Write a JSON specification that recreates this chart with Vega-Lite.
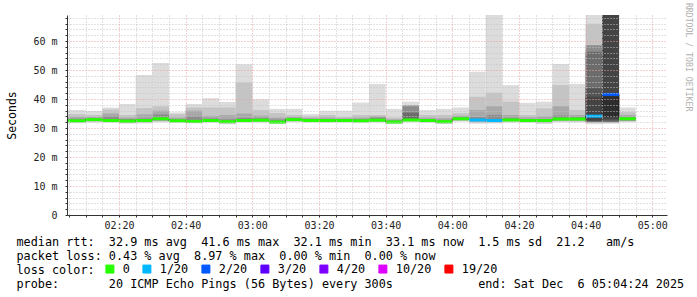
{
  "$schema": "https://vega.github.io/schema/vega-lite/v6.json",
  "width": 600,
  "height": 200,
  "autosize": {"type": "none"},
  "padding": {"left": 67, "top": 15, "right": 30, "bottom": 82},
  "background": "#ffffff",
  "title": {"text": "RRDTOOL / TOBI OETIKER", "orient": "right", "anchor": "start", "font": "DejaVu Sans Mono", "fontSize": 8.2, "fontWeight": "normal", "color": "#b0b0b0", "offset": 0, "dx": -10},
  "config": {
    "view": {"stroke": null},
    "axis": {"labelFont": "DejaVu Sans Mono", "labelFontSize": 10, "labelColor": "#222222", "domainColor": "#333333", "tickColor": "#333333", "titleFont": "DejaVu Sans Mono", "titleFontWeight": "normal", "titleColor": "#000000"}
  },
  "resolve": {"scale": {"y": "shared"}, "axis": {"y": "independent"}},
  "data": {"values": [
    {"t0":"2025-12-06T02:00:00","t1":"2025-12-06T02:05:00","mn":31.7,"mx":36.2,"a1":32.0,"a2":34.8,"b1":32.2,"b2":33.8,"c1":32.3,"c2":33.2,"med":32.5,"loss":"0"},
    {"t0":"2025-12-06T02:05:00","t1":"2025-12-06T02:10:00","mn":31.7,"mx":36.2,"a1":32.0,"a2":34.8,"b1":32.2,"b2":33.8,"c1":32.3,"c2":33.2,"med":32.5,"loss":"0"},
    {"t0":"2025-12-06T02:10:00","t1":"2025-12-06T02:15:00","mn":31.9,"mx":35.9,"a1":32.2,"a2":34.5,"b1":32.5,"b2":33.8,"c1":32.6,"c2":33.4,"med":32.9,"loss":"0"},
    {"t0":"2025-12-06T02:15:00","t1":"2025-12-06T02:20:00","mn":31.8,"mx":37.1,"a1":32.1,"a2":36.4,"b1":32.3,"b2":35.0,"c1":32.4,"c2":34.0,"med":32.6,"loss":"0"},
    {"t0":"2025-12-06T02:20:00","t1":"2025-12-06T02:25:00","mn":31.5,"mx":38.3,"a1":31.9,"a2":34.5,"b1":32.0,"b2":33.6,"c1":32.0,"c2":33.1,"med":32.4,"loss":"0"},
    {"t0":"2025-12-06T02:25:00","t1":"2025-12-06T02:30:00","mn":31.6,"mx":48.3,"a1":31.9,"a2":36.9,"b1":32.1,"b2":34.7,"c1":32.2,"c2":33.3,"med":32.6,"loss":"0"},
    {"t0":"2025-12-06T02:30:00","t1":"2025-12-06T02:35:00","mn":32.0,"mx":52.4,"a1":32.3,"a2":37.5,"b1":32.5,"b2":36.0,"c1":32.7,"c2":34.7,"med":33.2,"loss":"0"},
    {"t0":"2025-12-06T02:35:00","t1":"2025-12-06T02:40:00","mn":31.8,"mx":35.4,"a1":32.1,"a2":34.8,"b1":32.2,"b2":33.6,"c1":32.3,"c2":33.1,"med":32.5,"loss":"0"},
    {"t0":"2025-12-06T02:40:00","t1":"2025-12-06T02:45:00","mn":31.6,"mx":38.3,"a1":31.9,"a2":37.1,"b1":32.0,"b2":36.0,"c1":32.1,"c2":34.0,"med":32.3,"loss":"0"},
    {"t0":"2025-12-06T02:45:00","t1":"2025-12-06T02:50:00","mn":31.8,"mx":40.3,"a1":32.1,"a2":37.1,"b1":32.3,"b2":34.2,"c1":32.4,"c2":33.3,"med":32.6,"loss":"0"},
    {"t0":"2025-12-06T02:50:00","t1":"2025-12-06T02:55:00","mn":31.3,"mx":39.0,"a1":31.6,"a2":37.1,"b1":31.8,"b2":34.5,"c1":31.9,"c2":33.0,"med":32.2,"loss":"0"},
    {"t0":"2025-12-06T02:55:00","t1":"2025-12-06T03:00:00","mn":31.9,"mx":52.0,"a1":32.1,"a2":45.7,"b1":32.3,"b2":35.0,"c1":32.4,"c2":33.5,"med":32.6,"loss":"0"},
    {"t0":"2025-12-06T03:00:00","t1":"2025-12-06T03:05:00","mn":31.9,"mx":39.9,"a1":32.2,"a2":36.2,"b1":32.4,"b2":34.3,"c1":32.5,"c2":33.4,"med":32.7,"loss":"0"},
    {"t0":"2025-12-06T03:05:00","t1":"2025-12-06T03:10:00","mn":31.4,"mx":36.6,"a1":31.6,"a2":35.2,"b1":31.8,"b2":33.6,"c1":31.9,"c2":32.9,"med":32.1,"loss":"0"},
    {"t0":"2025-12-06T03:10:00","t1":"2025-12-06T03:15:00","mn":32.0,"mx":36.6,"a1":32.3,"a2":34.5,"b1":32.5,"b2":33.8,"c1":32.6,"c2":33.4,"med":32.9,"loss":"0"},
    {"t0":"2025-12-06T03:15:00","t1":"2025-12-06T03:20:00","mn":31.9,"mx":34.8,"a1":32.1,"a2":34.0,"b1":32.3,"b2":33.5,"c1":32.4,"c2":33.1,"med":32.6,"loss":"0"},
    {"t0":"2025-12-06T03:20:00","t1":"2025-12-06T03:25:00","mn":31.8,"mx":36.0,"a1":32.1,"a2":34.5,"b1":32.3,"b2":33.6,"c1":32.4,"c2":33.1,"med":32.6,"loss":"0"},
    {"t0":"2025-12-06T03:25:00","t1":"2025-12-06T03:30:00","mn":31.9,"mx":36.0,"a1":32.2,"a2":33.8,"b1":32.3,"b2":33.4,"c1":32.4,"c2":33.0,"med":32.6,"loss":"0"},
    {"t0":"2025-12-06T03:30:00","t1":"2025-12-06T03:35:00","mn":31.8,"mx":38.8,"a1":32.1,"a2":34.5,"b1":32.3,"b2":33.6,"c1":32.4,"c2":33.1,"med":32.5,"loss":"0"},
    {"t0":"2025-12-06T03:35:00","t1":"2025-12-06T03:40:00","mn":31.9,"mx":45.2,"a1":32.2,"a2":34.5,"b1":32.4,"b2":34.0,"c1":32.5,"c2":33.6,"med":32.7,"loss":"0"},
    {"t0":"2025-12-06T03:40:00","t1":"2025-12-06T03:45:00","mn":31.4,"mx":36.6,"a1":31.6,"a2":33.6,"b1":31.8,"b2":33.0,"c1":31.9,"c2":32.6,"med":32.1,"loss":"0"},
    {"t0":"2025-12-06T03:45:00","t1":"2025-12-06T03:50:00","mn":32.0,"mx":39.1,"a1":32.3,"a2":37.9,"b1":32.5,"b2":37.9,"c1":32.6,"c2":37.5,"d1":32.7,"d2":35.3,"med":32.8,"loss":"0"},
    {"t0":"2025-12-06T03:50:00","t1":"2025-12-06T03:55:00","mn":31.8,"mx":36.2,"a1":32.1,"a2":34.5,"b1":32.3,"b2":33.6,"c1":32.4,"c2":33.1,"med":32.6,"loss":"0"},
    {"t0":"2025-12-06T03:55:00","t1":"2025-12-06T04:00:00","mn":31.4,"mx":36.6,"a1":31.6,"a2":34.5,"b1":31.8,"b2":33.4,"c1":31.9,"c2":32.8,"med":32.2,"loss":"0"},
    {"t0":"2025-12-06T04:00:00","t1":"2025-12-06T04:05:00","mn":32.2,"mx":37.1,"a1":32.5,"a2":35.1,"b1":32.7,"b2":34.2,"c1":32.8,"c2":33.8,"med":33.2,"loss":"0"},
    {"t0":"2025-12-06T04:05:00","t1":"2025-12-06T04:10:00","mn":31.5,"mx":49.4,"a1":31.9,"a2":40.8,"b1":32.2,"b2":36.2,"c1":32.4,"c2":33.8,"med":32.8,"loss":"1/20"},
    {"t0":"2025-12-06T04:10:00","t1":"2025-12-06T04:15:00","mn":31.6,"mx":75,"a1":31.9,"a2":42.2,"b1":32.1,"b2":37.5,"c1":32.3,"c2":34.5,"med":32.6,"loss":"1/20"},
    {"t0":"2025-12-06T04:15:00","t1":"2025-12-06T04:20:00","mn":31.9,"mx":44.8,"a1":32.2,"a2":39.1,"b1":32.4,"b2":34.5,"c1":32.5,"c2":33.5,"med":32.8,"loss":"0"},
    {"t0":"2025-12-06T04:20:00","t1":"2025-12-06T04:25:00","mn":31.8,"mx":38.7,"a1":32.1,"a2":34.5,"b1":32.3,"b2":33.7,"c1":32.4,"c2":33.1,"med":32.6,"loss":"0"},
    {"t0":"2025-12-06T04:25:00","t1":"2025-12-06T04:30:00","mn":31.4,"mx":39.1,"a1":31.8,"a2":36.8,"b1":32.1,"b2":34.0,"c1":32.3,"c2":33.1,"med":32.6,"loss":"0"},
    {"t0":"2025-12-06T04:30:00","t1":"2025-12-06T04:35:00","mn":32.0,"mx":52.1,"a1":32.3,"a2":44.8,"b1":32.6,"b2":37.5,"c1":32.7,"c2":34.3,"med":33.1,"loss":"0"},
    {"t0":"2025-12-06T04:35:00","t1":"2025-12-06T04:40:00","mn":32.0,"mx":45.2,"a1":32.3,"a2":36.2,"b1":32.6,"b2":34.5,"c1":32.7,"c2":33.8,"med":33.1,"loss":"0"},
    {"t0":"2025-12-06T04:40:00","t1":"2025-12-06T04:45:00","mn":31.3,"mx":75,"a1":31.8,"a2":66.0,"c1":32.0,"c2":58.6,"d1":32.2,"d2":56.3,"e1":32.4,"e2":43.7,"f1":32.6,"f2":40.8,"med":34.1,"loss":"1/20"},
    {"t0":"2025-12-06T04:45:00","t1":"2025-12-06T04:50:00","mn":31.5,"mx":75,"a1":31.8,"a2":75,"c1":32.0,"c2":75,"d1":32.2,"d2":75,"e1":32.6,"e2":75,"f1":33.0,"f2":75,"g1":33.8,"g2":41.0,"med":41.6,"loss":"2/20"},
    {"t0":"2025-12-06T04:50:00","t1":"2025-12-06T04:55:00","mn":32.0,"mx":37.1,"a1":32.3,"a2":35.5,"b1":32.5,"b2":34.5,"c1":32.6,"c2":33.8,"med":33.2,"loss":"0"}
  ]},
  "encoding": {
    "x": {
      "field": "t0", "type": "temporal",
      "scale": {"domain": [{"year": 2025, "month": 12, "date": 6, "hours": 2, "minutes": 4, "seconds": 24}, {"year": 2025, "month": 12, "date": 6, "hours": 5, "minutes": 4, "seconds": 24}]},
      "axis": {
        "values": [
          {"year": 2025, "month": 12, "date": 6, "hours": 2, "minutes": 5}, {"year": 2025, "month": 12, "date": 6, "hours": 2, "minutes": 10}, {"year": 2025, "month": 12, "date": 6, "hours": 2, "minutes": 15}, {"year": 2025, "month": 12, "date": 6, "hours": 2, "minutes": 20},
          {"year": 2025, "month": 12, "date": 6, "hours": 2, "minutes": 25}, {"year": 2025, "month": 12, "date": 6, "hours": 2, "minutes": 30}, {"year": 2025, "month": 12, "date": 6, "hours": 2, "minutes": 35}, {"year": 2025, "month": 12, "date": 6, "hours": 2, "minutes": 40},
          {"year": 2025, "month": 12, "date": 6, "hours": 2, "minutes": 45}, {"year": 2025, "month": 12, "date": 6, "hours": 2, "minutes": 50}, {"year": 2025, "month": 12, "date": 6, "hours": 2, "minutes": 55}, {"year": 2025, "month": 12, "date": 6, "hours": 3, "minutes": 0},
          {"year": 2025, "month": 12, "date": 6, "hours": 3, "minutes": 5}, {"year": 2025, "month": 12, "date": 6, "hours": 3, "minutes": 10}, {"year": 2025, "month": 12, "date": 6, "hours": 3, "minutes": 15}, {"year": 2025, "month": 12, "date": 6, "hours": 3, "minutes": 20},
          {"year": 2025, "month": 12, "date": 6, "hours": 3, "minutes": 25}, {"year": 2025, "month": 12, "date": 6, "hours": 3, "minutes": 30}, {"year": 2025, "month": 12, "date": 6, "hours": 3, "minutes": 35}, {"year": 2025, "month": 12, "date": 6, "hours": 3, "minutes": 40},
          {"year": 2025, "month": 12, "date": 6, "hours": 3, "minutes": 45}, {"year": 2025, "month": 12, "date": 6, "hours": 3, "minutes": 50}, {"year": 2025, "month": 12, "date": 6, "hours": 3, "minutes": 55}, {"year": 2025, "month": 12, "date": 6, "hours": 4, "minutes": 0},
          {"year": 2025, "month": 12, "date": 6, "hours": 4, "minutes": 5}, {"year": 2025, "month": 12, "date": 6, "hours": 4, "minutes": 10}, {"year": 2025, "month": 12, "date": 6, "hours": 4, "minutes": 15}, {"year": 2025, "month": 12, "date": 6, "hours": 4, "minutes": 20},
          {"year": 2025, "month": 12, "date": 6, "hours": 4, "minutes": 25}, {"year": 2025, "month": 12, "date": 6, "hours": 4, "minutes": 30}, {"year": 2025, "month": 12, "date": 6, "hours": 4, "minutes": 35}, {"year": 2025, "month": 12, "date": 6, "hours": 4, "minutes": 40},
          {"year": 2025, "month": 12, "date": 6, "hours": 4, "minutes": 45}, {"year": 2025, "month": 12, "date": 6, "hours": 4, "minutes": 50}, {"year": 2025, "month": 12, "date": 6, "hours": 4, "minutes": 55}, {"year": 2025, "month": 12, "date": 6, "hours": 5, "minutes": 0}
        ],
        "labelExpr": "(timeFormat(datum.value, '%M') === '00' || timeFormat(datum.value, '%M') === '20' || timeFormat(datum.value, '%M') === '40') ? timeFormat(datum.value, '%H:%M') : ''",
        "labelFlush": false,
        "labelOverlap": false,
        "labelPadding": 3,
        "tickSize": 2,
        "grid": true,
        "gridColor": {"condition": {"test": "timeFormat(datum.value, '%M') === '00' || timeFormat(datum.value, '%M') === '20' || timeFormat(datum.value, '%M') === '40'", "value": "#eca0a0"}, "value": "#c4c4c4"},
        "gridDash": [1, 2],
        "zindex": 1,
        "title": ["median\u00a0rtt:\u00a0\u00a032.9\u00a0ms\u00a0avg\u00a0\u00a041.6\u00a0ms\u00a0max\u00a0\u00a032.1\u00a0ms\u00a0min\u00a0\u00a033.1\u00a0ms\u00a0now\u00a0\u00a01.5\u00a0ms\u00a0sd\u00a0\u00a021.2\u00a0\u00a0\u00a0am/s",
                  "packet\u00a0loss:\u00a00.43\u00a0%\u00a0avg\u00a0\u00a08.97\u00a0%\u00a0max\u00a0\u00a00.00\u00a0%\u00a0min\u00a0\u00a00.00\u00a0%\u00a0now",
                  "loss\u00a0color:",
                  "probe:\u00a0\u00a0\u00a0\u00a0\u00a0\u00a0\u00a020\u00a0ICMP\u00a0Echo\u00a0Pings\u00a0(56\u00a0Bytes)\u00a0every\u00a0300s\u00a0\u00a0\u00a0\u00a0\u00a0\u00a0\u00a0\u00a0\u00a0\u00a0\u00a0\u00a0end:\u00a0Sat\u00a0Dec\u00a0\u00a06\u00a005:04:24\u00a02025"],
        "titleX": -51,
        "titleY": 30,
        "titleAnchor": "start",
        "titleAlign": "left",
        "titleBaseline": "alphabetic",
        "titleFontSize": 11.8,
        "titleLineHeight": 14.2
      }
    }
  },
  "layer": [
    {
      "mark": {"type": "bar", "color": "#dcdcdc", "clip": true},
      "encoding": {
        "x2": {"field": "t1"},
        "y": {
          "field": "mn", "type": "quantitative",
          "scale": {"domain": [0, 69], "nice": false, "zero": true},
          "axis": {
            "orient": "left",
            "values": [0,2,4,6,8,10,12,14,16,18,20,22,24,26,28,30,32,34,36,38,40,42,44,46,48,50,52,54,56,58,60,62,64,66,68],
            "labelExpr": "datum.value % 10 === 0 ? (datum.value === 0 ? '0' : datum.value + ' m') : ''",
            "labelOverlap": false,
            "grid": true,
            "gridColor": {"condition": {"test": "datum.value % 10 === 0", "value": "#eca0a0"}, "value": "#c4c4c4"},
            "gridDash": [1, 2],
            "tickSize": 2,
            "labelPadding": 8,
            "zindex": 1,
            "title": "Seconds",
            "titleFontSize": 11.5,
            "titleX": -52,
            "titleBaseline": "alphabetic"
          }
        },
        "y2": {"field": "mx"}
      }
    },
    {"mark": {"type": "bar", "color": "#c4c4c4", "clip": true}, "encoding": {"x2": {"field": "t1"}, "y": {"field": "a1", "type": "quantitative", "axis": null}, "y2": {"field": "a2"}}},
    {"mark": {"type": "bar", "color": "#a8a8a8", "clip": true}, "encoding": {"x2": {"field": "t1"}, "y": {"field": "b1", "type": "quantitative", "axis": null}, "y2": {"field": "b2"}}},
    {"mark": {"type": "bar", "color": "#8c8c8c", "clip": true}, "encoding": {"x2": {"field": "t1"}, "y": {"field": "c1", "type": "quantitative", "axis": null}, "y2": {"field": "c2"}}},
    {"mark": {"type": "bar", "color": "#6c6c6c", "clip": true}, "encoding": {"x2": {"field": "t1"}, "y": {"field": "d1", "type": "quantitative", "axis": null}, "y2": {"field": "d2"}}},
    {"mark": {"type": "bar", "color": "#555555", "clip": true}, "encoding": {"x2": {"field": "t1"}, "y": {"field": "e1", "type": "quantitative", "axis": null}, "y2": {"field": "e2"}}},
    {"mark": {"type": "bar", "color": "#444444", "clip": true}, "encoding": {"x2": {"field": "t1"}, "y": {"field": "f1", "type": "quantitative", "axis": null}, "y2": {"field": "f2"}}},
    {"mark": {"type": "bar", "color": "#2d2d2d", "clip": true}, "encoding": {"x2": {"field": "t1"}, "y": {"field": "g1", "type": "quantitative", "axis": null}, "y2": {"field": "g2"}}},
    {
      "mark": {"type": "line", "interpolate": "step-after", "color": "#1a1a1a", "strokeWidth": 1, "clip": true},
      "encoding": {"y": {"field": "med", "type": "quantitative", "axis": null}}
    },
    {
      "mark": {"type": "rule", "strokeWidth": 3, "clip": true},
      "encoding": {
        "x2": {"field": "t1"},
        "y": {"field": "med", "type": "quantitative", "axis": null},
        "color": {
          "field": "loss", "type": "nominal",
          "scale": {"domain": ["0", "1/20", "2/20", "3/20", "4/20", "10/20", "19/20"], "range": ["#26ff00", "#00b8ff", "#0059ff", "#5e00ff", "#7e00ff", "#dd00ff", "#ff0000"]},
          "legend": {
            "title": null,
            "orient": "none",
            "legendX": 37,
            "legendY": 248,
            "direction": "horizontal",
            "labelFont": "DejaVu Sans Mono",
            "labelFontSize": 11.8,
            "labelColor": "#000000",
            "labelOffset": 7,
            "columnPadding": 10,
            "padding": 0,
            "symbolType": "square",
            "symbolSize": 64,
            "symbolStrokeColor": "#000000",
            "symbolStrokeWidth": 1,
            "encode": {"symbols": {"update": {"fill": {"scale": "color", "field": "value"}, "stroke": {"value": "#000000"}, "strokeWidth": {"value": 1}, "fillOpacity": {"value": 1}}}}
          }
        }
      }
    }
  ]
}
